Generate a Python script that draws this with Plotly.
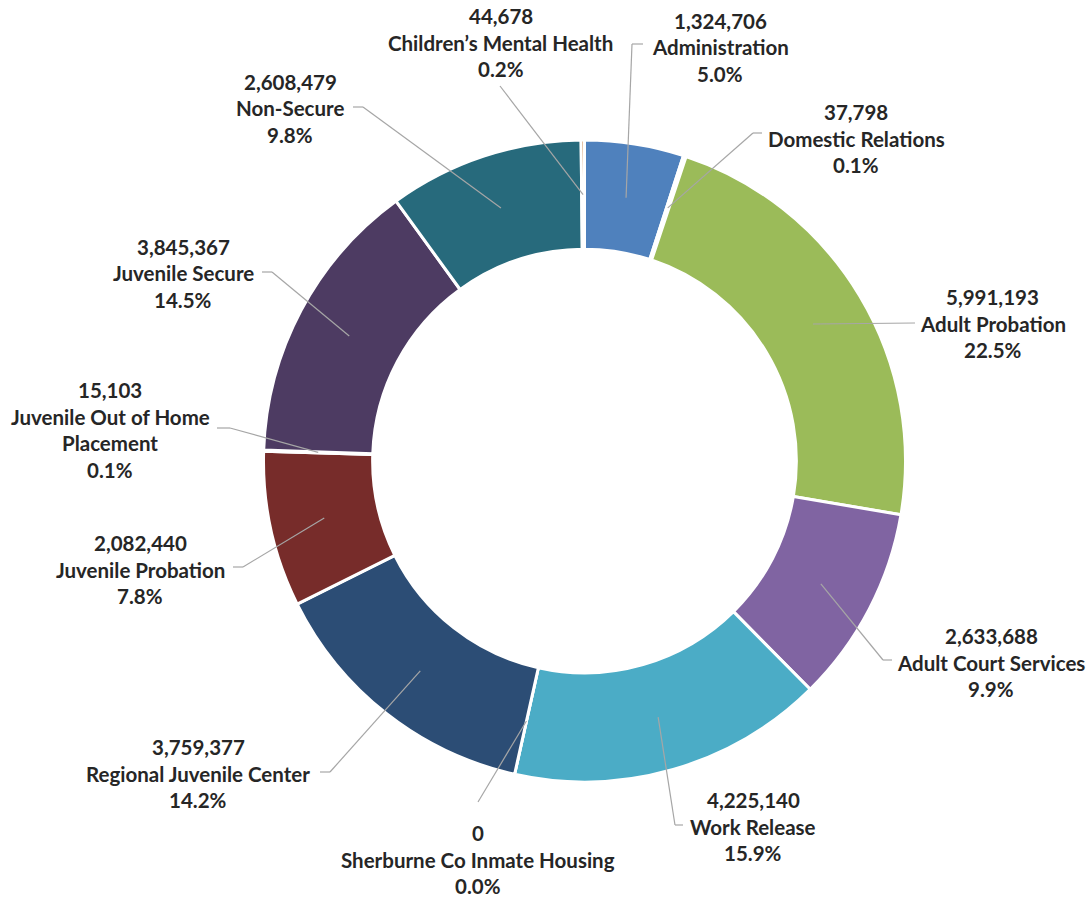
import math
import plotly.graph_objects as go

# ---------------- data ----------------
categories = [
    "Administration",
    "Domestic Relations",
    "Adult Probation",
    "Adult Court Services",
    "Work Release",
    "Sherburne Co Inmate Housing",
    "Regional Juvenile Center",
    "Juvenile Probation",
    "Juvenile Out of Home Placement",
    "Juvenile Secure",
    "Non-Secure",
    "Children’s Mental Health",
]
values = [1324706, 37798, 5991193, 2633688, 4225140, 0,
          3759377, 2082440, 15103, 3845367, 2608479, 44678]
# percentage labels as printed on the chart
pct_labels = ["5.0%", "0.1%", "22.5%", "9.9%", "15.9%", "0.0%",
              "14.2%", "7.8%", "0.1%", "14.5%", "9.8%", "0.2%"]
# how each category name is broken into lines in its label
name_lines = [
    ["Administration"],
    ["Domestic Relations"],
    ["Adult Probation"],
    ["Adult Court Services"],
    ["Work Release"],
    ["Sherburne Co Inmate Housing"],
    ["Regional Juvenile Center"],
    ["Juvenile Probation"],
    ["Juvenile Out of Home", "Placement"],
    ["Juvenile Secure"],
    ["Non-Secure"],
    ["Children’s Mental Health"],
]

# ---------------- style ----------------
colors = ["#4F81BD", "#C0504D", "#9BBB59", "#8064A2", "#4BACC6", "#F79646",
          "#2C4D75", "#772C2A", "#5F7530", "#4D3B62", "#276A7C", "#B65708"]

W, H = 1091, 898
CX, CY = 584.5, 461.0         # donut centre (px)
R_OUT = 321.0
HOLE = 0.66
R_MID = R_OUT * (1 + HOLE) / 2.0
LINE_GAP = 26.5
TEXT_COLOR = "#262626"
LEADER_COLOR = "#A6A6A6"
FONT = dict(family="Lato, 'Open Sans', sans-serif", size=20.5, color=TEXT_COLOR, weight="bold")

# label layout: centre x, first line y, leader end, optional elbow (px)
label_cx = [720, 856, 993, 991, 753, 478, 198, 140, 110, 183, 290, 501]
label_y0 = [21, 112, 297, 636, 800, 833, 747, 543, 390, 247, 82, 16]
leader_end = [(643, 44), (762, 133), (915, 323), (892, 660), (683, 825), (478, 802),
              (320, 772), (233, 567), (217, 428), (262, 272), (353, 107), (500, 86)]
leader_elbow = [(632, 44), (753, 133), None, (883, 660), (675, 825), None,
                (330, 772), (243, 567), (230, 428), (272, 272), (363, 107), None]


def px(x):
    return x / W


def py(y):
    return 1 - y / H


total = float(sum(values))

fig = go.Figure()
fig.add_trace(go.Pie(
    labels=categories,
    values=values,
    hole=HOLE,
    sort=False,
    direction="clockwise",
    rotation=0,
    textinfo="none",
    showlegend=False,
    marker=dict(colors=colors, line=dict(color="white", width=3)),
    domain=dict(x=[px(CX - R_OUT), px(CX + R_OUT)],
                y=[py(CY + R_OUT), py(CY - R_OUT)]),
))

annotations = []
shapes = []
cum = 0.0
for i, v in enumerate(values):
    mid = (cum + v / 2.0) / total
    cum += v
    ang = 2 * math.pi * mid
    sx = CX + R_MID * math.sin(ang)
    sy = CY - R_MID * math.cos(ang)
    pts = [(sx, sy)]
    if leader_elbow[i] is not None:
        pts.append(leader_elbow[i])
    pts.append(leader_end[i])
    for (x0, y0), (x1, y1) in zip(pts[:-1], pts[1:]):
        shapes.append(dict(type="line", xref="paper", yref="paper",
                           x0=px(x0), y0=py(y0), x1=px(x1), y1=py(y1),
                           line=dict(color=LEADER_COLOR, width=1.2)))
    lines = [f"{v:,}"] + name_lines[i] + [pct_labels[i]]
    for k, t in enumerate(lines):
        annotations.append(dict(
            x=px(label_cx[i]), y=py(label_y0[i] + k * LINE_GAP),
            xref="paper", yref="paper", text=t, showarrow=False,
            xanchor="center", yanchor="middle", font=FONT))

fig.update_layout(
    width=W, height=H,
    margin=dict(l=0, r=0, t=0, b=0),
    paper_bgcolor="white",
    plot_bgcolor="white",
    annotations=annotations,
    shapes=shapes,
)

fig.write_html("out.html",
               config={"displayModeBar": False},
               post_script="document.body.style.margin='0px';"
                           "document.body.style.overflow='hidden';")
